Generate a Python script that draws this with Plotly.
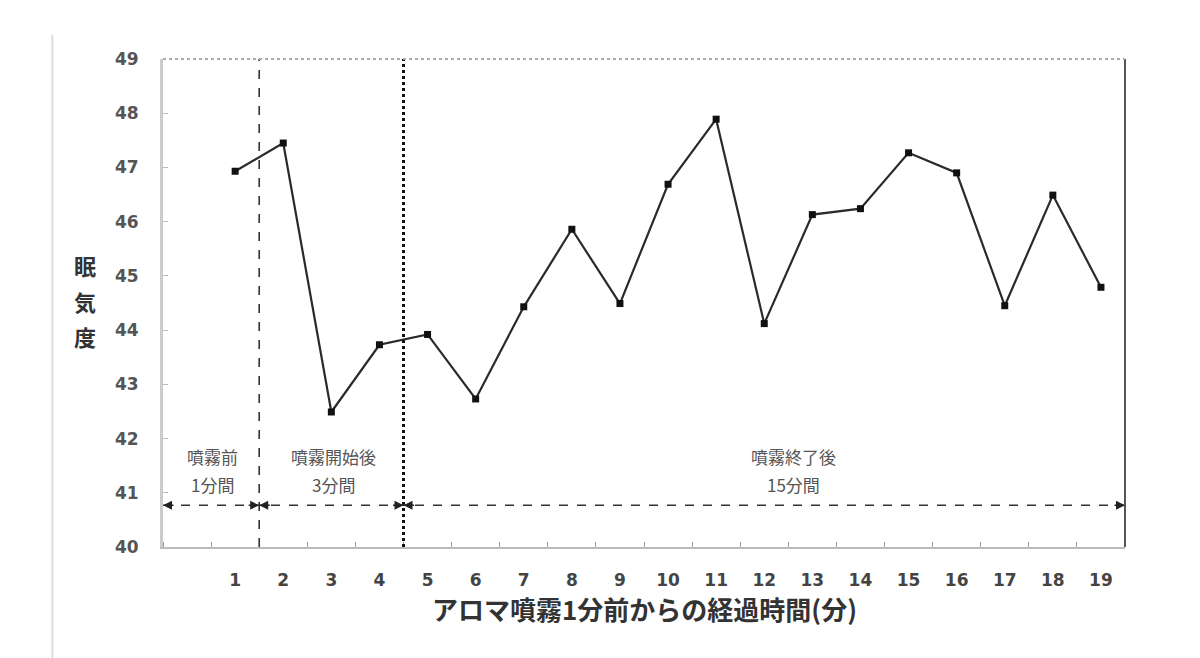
import plotly.graph_objects as go

minutes = list(range(1, 20))
sleepiness = [46.93, 47.45, 42.49, 43.73, 43.92, 42.73, 44.43, 45.86, 44.49, 46.69,
              47.89, 44.12, 46.13, 46.24, 47.27, 46.90, 44.45, 46.49, 44.79]
tick_labels = [str(m) for m in minutes]
phase_bounds = [-0.5, 1.5, 4.5, 19.5]
phase_titles = ["噴霧前", "噴霧開始後", "噴霧終了後"]
phase_durations = ["1分間", "3分間", "15分間"]
phase_label_x = [0.52, 3.04, 12.6]
arrow_y = 40.77
title_y = 41.66
duration_y = 41.15
y_title_chars = ["眠", "気", "度"]

FONT = "Noto Sans CJK JP"

fig = go.Figure()
fig.add_trace(go.Scatter(
    x=minutes, y=sleepiness, mode="lines+markers",
    line=dict(color="#2a2a2a", width=2.2),
    marker=dict(symbol="square", size=7, color="#111"),
    showlegend=False, hoverinfo="skip"))

# vertical phase boundaries
fig.add_shape(type="line", xref="x", yref="y", x0=phase_bounds[1], x1=phase_bounds[1],
              y0=40, y1=49, line=dict(color="#333", width=1.6, dash="dash"))
fig.add_shape(type="line", xref="x", yref="y", x0=phase_bounds[2], x1=phase_bounds[2],
              y0=40, y1=49, line=dict(color="#111", width=3, dash="dot"))
# horizontal dashed duration line
fig.add_shape(type="line", xref="x", yref="y", x0=phase_bounds[0], x1=phase_bounds[-1],
              y0=arrow_y, y1=arrow_y, line=dict(color="#333", width=1.6, dash="dash"))
# arrowheads at each segment end
for i in range(len(phase_bounds) - 1):
    a, b = phase_bounds[i], phase_bounds[i + 1]
    for tip, tail in ((a, a + 0.25), (b, b - 0.25)):
        fig.add_annotation(x=tip, y=arrow_y, ax=tail, ay=arrow_y, xref="x", yref="y",
                           axref="x", ayref="y", text="", showarrow=True,
                           arrowhead=2, arrowsize=1.2, arrowwidth=1.5, arrowcolor="#222")

for t, d, px in zip(phase_titles, phase_durations, phase_label_x):
    fig.add_annotation(x=px, y=title_y, xref="x", yref="y", text=t, showarrow=False,
                       font=dict(family=FONT, size=17, color="#555"))
    fig.add_annotation(x=px, y=duration_y, xref="x", yref="y", text=d, showarrow=False,
                       font=dict(family=FONT, size=17, color="#555"))

# right border darker, top dotted
fig.add_shape(type="line", xref="paper", yref="paper", x0=1, x1=1, y0=0, y1=1,
              line=dict(color="#555", width=2))
fig.add_shape(type="line", xref="paper", yref="paper", x0=0, x1=1, y0=1, y1=1,
              line=dict(color="#aaa", width=2, dash="dot"))
# faint page border on far left
fig.add_shape(type="line", xref="paper", yref="paper", x0=-0.115, x1=-0.115, y0=-0.23, y1=1.05,
              line=dict(color="#ddd", width=2))

# y title (stacked vertical characters)
for ch, py in zip(y_title_chars, [0.578, 0.505, 0.432]):
    fig.add_annotation(x=-0.081, y=py, xref="paper", yref="paper", text=f"<b>{ch}</b>",
                       showarrow=False, font=dict(family=FONT, size=22, color="#333"),
                       xanchor="center", yanchor="middle")
# x title
fig.add_annotation(x=0.5, y=-0.085, xref="paper", yref="paper",
                   text="<b>アロマ噴霧1分前からの経過時間(分)</b>", showarrow=False,
                   font=dict(family=FONT, size=26, color="#333"),
                   xanchor="center", yanchor="top")

fig.update_layout(
    width=1200, height=658,
    margin=dict(l=163, r=75, t=59, b=111),
    paper_bgcolor="white", plot_bgcolor="white",
    xaxis=dict(range=[-0.5, 19.5], tickvals=minutes, ticktext=tick_labels,
               ticks="", showgrid=False, zeroline=False,
               showline=True, linecolor="#bbb", linewidth=2,
               tickfont=dict(family="DejaVu Sans", size=17, color="#444", weight="bold"),
               ticklabelstandoff=17,
               minor=dict(tick0=0.5, dtick=1, ticks="inside", ticklen=5,
                          tickcolor="#999", tickwidth=1, showgrid=False)),
    yaxis=dict(range=[40, 49], dtick=1, ticks="inside", ticklen=5, tickcolor="#bbb",
               showgrid=False, zeroline=False,
               showline=True, linecolor="#ccc", linewidth=3,
               tickfont=dict(family="DejaVu Sans", size=17, color="#555", weight="bold"),
               ticklabelstandoff=18),
)

fig.write_html("out.html")
